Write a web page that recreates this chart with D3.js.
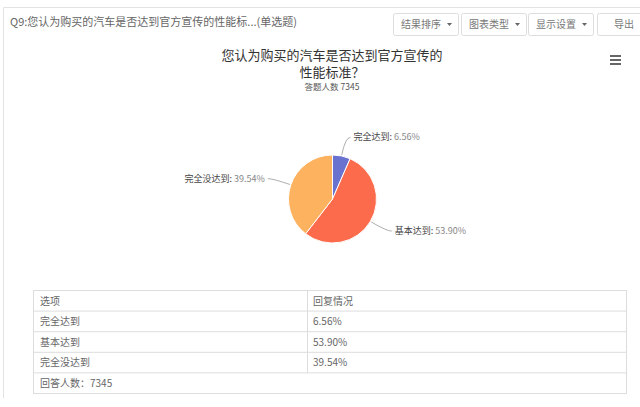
<!DOCTYPE html>
<html>
<head>
<meta charset="utf-8">
<script src="https://cdn.jsdelivr.net/npm/d3@7"></script>
<style>
  body { margin: 0; background: #fff; }
  svg { display: block; font-family: "Noto Sans CJK SC", "Noto Sans", sans-serif; }
</style>
</head>
<body>
<svg width="640" height="407"></svg>
<script>
var categories = ["完全达到", "基本达到", "完全没达到"];
var values = [6.56, 53.90, 39.54];
var colors = ["#6a72d0", "#fc6b4c", "#fdb25f"];
var buttons = ["结果排序", "图表类型", "显示设置", "导出"];
var tableHead = ["选项", "回复情况"];
var titleLines = ["您认为购买的汽车是否达到官方宣传的", "性能标准？"];
var total = 7345;

var svg = d3.select("svg");

// outer frame
svg.append("path")
  .attr("d", "M640,7.5 H3.5 V398")
  .attr("fill", "none")
  .attr("stroke", "#e3e3e3");

svg.append("text")
  .attr("x", 10).attr("y", 26)
  .style("font-size", "11px").style("fill", "#666")
  .text("Q9:您认为购买的汽车是否达到官方宣传的性能标...(单选题)");

// toolbar buttons
var btnX = [393, 461, 528, 597];
var btnW = [65, 65, 65, 50];
buttons.forEach(function(b, i) {
  var g = svg.append("g").attr("transform", "translate(" + btnX[i] + ",13)");
  g.append("rect")
    .attr("x", 0.5).attr("y", 0.5)
    .attr("width", btnW[i]).attr("height", 22)
    .attr("rx", 2)
    .attr("fill", "#fff").attr("stroke", "#ddd");
  if (i < 3) {
    g.append("text").attr("x", 8).attr("y", 15)
      .style("font-size", "10px").style("fill", "#777").text(b);
    g.append("path").attr("d", "M54,10 l5,0 l-2.5,3 z").attr("fill", "#666");
  } else {
    g.append("text").attr("x", 17).attr("y", 15)
      .style("font-size", "10px").style("fill", "#777").text(b);
  }
});

// title (one wrapped text)
var title = svg.append("text").attr("text-anchor", "middle")
  .style("font-size", "13px").style("fill", "#333");
titleLines.forEach(function(s, k) {
  title.append("tspan").attr("x", 332).attr("y", 60 + k * 17).text(s);
});
svg.append("text").attr("x", 332).attr("y", 89.5).attr("text-anchor", "middle")
  .style("font-size", "8.5px").style("fill", "#555")
  .text("答题人数 " + total);

// menu icon
[56, 60, 64].forEach(function(y) {
  svg.append("line").attr("x1", 610).attr("x2", 621).attr("y1", y).attr("y2", y)
    .attr("stroke", "#666").attr("stroke-width", 2);
});

// pie
var cx = 332.5, cy = 199, r = 44;
var pie = d3.pie().sort(null).value(function(d) { return d; });
var arcs = pie(values);
var arc = d3.arc().innerRadius(0).outerRadius(r);
var edgeArc = d3.arc().innerRadius(r + 1).outerRadius(r + 1);
var bendArc = d3.arc().innerRadius(r + 19).outerRadius(r + 19);

var pg = svg.append("g").attr("transform", "translate(" + cx + "," + cy + ")");
pg.selectAll("path.slice")
  .data(arcs).enter().append("path")
  .attr("class", "slice")
  .attr("d", arc)
  .attr("fill", function(d, i) { return colors[i]; })
  .attr("stroke", "#fff").attr("stroke-width", 1);

arcs.forEach(function(d, i) {
  var a = edgeArc.centroid(d), b = bendArc.centroid(d);
  var right = b[0] >= 0;
  var c = [b[0] + (right ? 5 : -5), b[1]];
  pg.append("path")
    .attr("d", "M" + a + "Q" + b + " " + c)
    .attr("fill", "none").attr("stroke", "#999").attr("stroke-width", 0.8);
  var t = pg.append("text")
    .attr("x", c[0] + (right ? 3 : -3)).attr("y", c[1] + 3)
    .attr("text-anchor", right ? "start" : "end")
    .style("font-size", "9px");
  t.append("tspan").style("fill", "#444").text(categories[i] + ": ");
  t.append("tspan").style("fill", "#888").text(values[i].toFixed(2) + "%");
});

// table
var tx0 = 33.5, tx1 = 626.5, tmid = 307.5;
var ty = d3.scaleLinear().domain([0, 5]).range([290.5, 393.5]);
var rows = [tableHead].concat(categories.map(function(c, i) {
  return [c, values[i].toFixed(2) + "%"];
}));

svg.append("rect")
  .attr("x", tx0).attr("y", ty(0))
  .attr("width", tx1 - tx0).attr("height", ty(5) - ty(0))
  .attr("fill", "#fff").attr("stroke", "#ddd");
d3.range(1, 5).forEach(function(k) {
  svg.append("line").attr("x1", tx0).attr("x2", tx1)
    .attr("y1", ty(k)).attr("y2", ty(k)).attr("stroke", "#ddd");
});
svg.append("line").attr("x1", tmid).attr("x2", tmid)
  .attr("y1", ty(0)).attr("y2", ty(4)).attr("stroke", "#ddd");

rows.forEach(function(row, k) {
  svg.append("text").attr("x", 40).attr("y", ty(k) + 14)
    .style("font-size", "10px").style("fill", "#666").text(row[0]);
  svg.append("text").attr("x", 313).attr("y", ty(k) + 14)
    .style("font-size", "10px").style("fill", "#666").text(row[1]);
});
svg.append("text").attr("x", 40).attr("y", ty(4) + 14)
  .style("font-size", "10px").style("fill", "#666").text("回答人数：" + total);
</script>
</body>
</html>
